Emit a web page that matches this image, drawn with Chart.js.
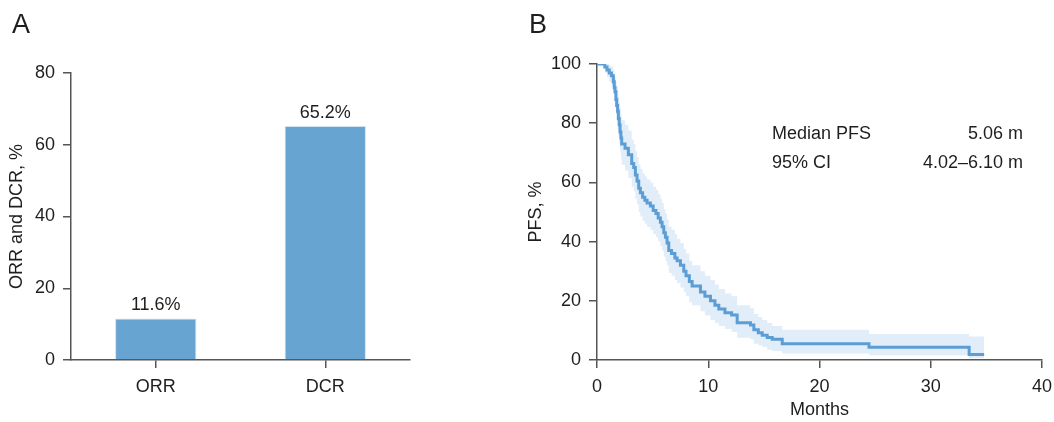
<!DOCTYPE html>
<html>
<head>
<meta charset="utf-8">
<script src="https://cdn.jsdelivr.net/npm/chart.js@4.4.1/dist/chart.umd.min.js"></script>
<style>
  html, body { margin: 0; padding: 0; background: #fff; }
  #wrap { position: relative; width: 1054px; height: 422px; font-family: "Liberation Sans", Arial, sans-serif; color: #1e1e1e; }
  #wrap canvas { position: absolute; left: 0; top: 0; }
  .lbl { position: absolute; font-size: 18px; line-height: 22px; white-space: nowrap; }
  .panel { position: absolute; font-size: 27px; line-height: 28px; }
</style>
</head>
<body>
<div id="wrap">
  <canvas id="c-rates" width="1054" height="422"></canvas>
  <canvas id="c-pfs" width="1054" height="422"></canvas>
  <div class="panel" style="left:12px; top:10px;">A</div>
  <div class="panel" style="left:529px; top:10px;">B</div>
  <div class="lbl" style="left:772px; top:122px;">Median PFS</div>
  <div class="lbl" style="right:31px; top:122px;">5.06 m</div>
  <div class="lbl" style="left:772px; top:151px;">95% CI</div>
  <div class="lbl" style="right:31px; top:151px;">4.02–6.10 m</div>
</div>
<script>
// panel A - response rates
const rateLabels = ['ORR', 'DCR'];
const rateValues = [11.6, 65.2];
const rateTicks = [0, 20, 40, 60, 80];

// panel B - PFS curve (months, %)
const pfsTimes = [0, 0.7, 0.9, 1.1, 1.3, 1.47, 1.55, 1.62, 1.7, 1.77, 1.85, 1.92, 2.0, 2.07, 2.15, 2.22, 2.52, 2.82, 3.12, 3.3, 3.45, 3.6, 3.75, 3.9,
    4.1, 4.3, 4.5, 4.8, 5.05, 5.3, 5.5, 5.7, 5.85, 6.0, 6.15, 6.3, 6.45, 6.7, 7.0, 7.2, 7.5, 7.8, 8.0, 8.3, 8.55, 9.3, 9.7, 10.2, 10.6, 10.95, 11.5, 12.1, 12.6, 13.8, 14.1, 14.5, 14.85, 15.3, 15.75, 16.65, 24.45, 33.45, 34.8];
const pfsValues = [100, 99, 98, 97, 96, 94, 92, 90.6, 88, 86, 84, 81.6, 79.5, 77, 75, 73, 71.5, 69.3, 66.4, 65, 62.5, 60.5, 58, 56.5,
    55, 54, 53, 52, 50.5, 49.5, 48, 46.5, 45, 43, 41.5, 39.5, 37, 36, 34.5, 33.5, 32, 30, 28.5, 26.5, 25, 23, 21.5, 20, 18.5, 17.2, 16, 15.2, 12.6, 11.8, 10.2, 9.2, 8.4, 7.6, 7.0, 5.5, 4.3, 1.9, 1.9];
const ciUpper = [100, 100, 100, 99.5, 99, 98, 96.5, 95.5, 94, 92.5, 91, 89, 87, 85, 83, 81, 79.5, 77.5, 74.5, 73, 70.5, 68.5, 66, 64.5,
    63, 62, 61, 60, 58.5, 57.5, 56, 54.5, 53, 51, 49.5, 47.5, 45, 44, 42.5, 41, 39.5, 37.5, 36, 33.5, 32, 30, 28.5, 27, 25.5, 24, 22.5, 21.5, 18.5, 17.5, 15.5, 14.5, 13.5, 12.5, 11.5, 10.2, 8.8, 7.9, 7.9];
const ciLower = [100, 97, 95.5, 94, 92.5, 90, 87.5, 86, 83, 80.5, 78, 75.5, 73, 70.5, 68, 66, 64, 61.5, 58.5, 57, 54.5, 52.5, 50, 48.5,
    47, 46, 45, 44, 42.5, 41.5, 40, 38.5, 37, 35, 33.5, 32, 29.5, 28.5, 27, 26, 24.5, 23, 21.5, 19.5, 18.5, 16.5, 15, 13.5, 12.5, 11.5, 10.5, 9.5, 7.5, 7, 5.5, 5, 4.5, 3.5, 3, 2.2, 1.6, 0.6, 0.6];
const monthTicks = [0, 10, 20, 30, 40];
const pfsTicks = [0, 20, 40, 60, 80, 100];

const TXT = '#1e1e1e';
const AXIS = '#555';
const BLUE = '#5c9dd5';

Chart.defaults.font.family = '"Liberation Sans", Arial, sans-serif';
Chart.defaults.font.size = 18;
Chart.defaults.color = TXT;

function toXY(xs, ys) {
    return xs.map((x, i) => ({ x: x, y: ys[i] }));
}

// bar value labels above each bar
const barLabels = {
    id: 'barLabels',
    afterDatasetsDraw(chart) {
        const ctx = chart.ctx;
        const meta = chart.getDatasetMeta(0);
        ctx.save();
        ctx.font = '18px "Liberation Sans", Arial, sans-serif';
        ctx.fillStyle = TXT;
        ctx.textAlign = 'center';
        ctx.textBaseline = 'bottom';
        meta.data.forEach((bar, i) => {
            ctx.fillText(rateValues[i].toFixed(1) + '%', bar.x, bar.y - 4);
        });
        ctx.restore();
    }
};

function axisGrid() {
    return { drawOnChartArea: false, drawTicks: true, tickLength: 8, color: AXIS, lineWidth: 1.5, offset: false };
}

function renderRates() {
    new Chart(document.getElementById('c-rates'), {
        type: 'bar',
        data: {
            labels: rateLabels,
            datasets: [{
                data: rateValues,
                backgroundColor: '#68a4d2',
                borderColor: '#cfe3f3',
                borderWidth: 1,
                barPercentage: 0.48,
                categoryPercentage: 1
            }]
        },
        options: {
            responsive: false,
            animation: false,
            layout: { padding: { left: 0, top: 73, right: 644, bottom: 0 } },
            plugins: { legend: { display: false }, tooltip: { enabled: false } },
            scales: {
                x: {
                    grid: axisGrid(),
                    border: { color: AXIS, width: 1.5 },
                    ticks: { padding: 8, color: TXT },
                    afterFit: s => { s.height = 62; }
                },
                y: {
                    min: 0, max: 80,
                    afterBuildTicks: s => { s.ticks = rateTicks.map(v => ({ value: v })); },
                    grid: axisGrid(),
                    border: { color: AXIS, width: 1.5 },
                    ticks: { padding: 8, color: TXT },
                    title: { display: true, text: 'ORR and DCR, %', padding: { top: 6, bottom: 0 }, color: TXT },
                    afterFit: s => { s.width = 71; }
                }
            }
        },
        plugins: [barLabels]
    });
}

function renderPfs() {
    new Chart(document.getElementById('c-pfs'), {
        type: 'line',
        data: {
            datasets: [
                { data: toXY(pfsTimes, pfsValues), borderColor: BLUE, borderWidth: 3, stepped: 'before', pointRadius: 0, fill: false },
                { data: toXY(pfsTimes, ciUpper), borderWidth: 0, borderColor: 'rgba(0,0,0,0)', stepped: 'before', pointRadius: 0, fill: '+1', backgroundColor: '#e1edf8' },
                { data: toXY(pfsTimes, ciLower), borderWidth: 0, borderColor: 'rgba(0,0,0,0)', stepped: 'before', pointRadius: 0, fill: false }
            ]
        },
        options: {
            responsive: false,
            animation: false,
            layout: { padding: { left: 520, top: 64, right: 12, bottom: 0 } },
            plugins: { legend: { display: false }, tooltip: { enabled: false } },
            scales: {
                x: {
                    type: 'linear', min: 0, max: 40,
                    afterBuildTicks: s => { s.ticks = monthTicks.map(v => ({ value: v })); },
                    grid: axisGrid(),
                    border: { color: AXIS, width: 1.5 },
                    ticks: { padding: 8, color: TXT },
                    title: { display: true, text: 'Months', padding: { top: 0, bottom: 1 }, color: TXT },
                    afterFit: s => { s.height = 62; s.paddingRight = 0; }
                },
                y: {
                    min: 0, max: 100,
                    afterBuildTicks: s => { s.ticks = pfsTicks.map(v => ({ value: v })); },
                    grid: axisGrid(),
                    border: { color: AXIS, width: 1.5 },
                    ticks: { padding: 8, color: TXT },
                    title: { display: true, text: 'PFS, %', padding: { top: 5, bottom: 0 }, color: TXT },
                    afterFit: s => { s.width = 77; }
                }
            }
        }
    });
}

document.addEventListener('DOMContentLoaded', () => {
    renderRates();
    renderPfs();
});
</script>
</body>
</html>
